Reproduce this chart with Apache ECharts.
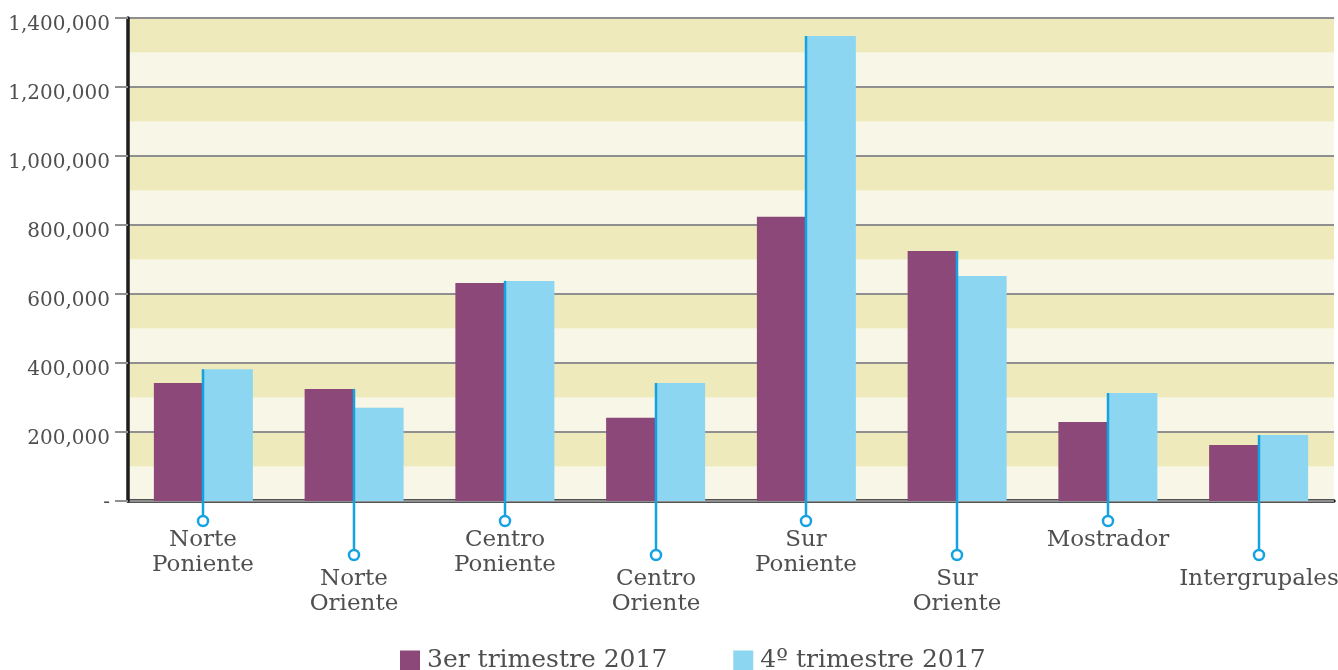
<!DOCTYPE html>
<html>
<head>
<meta charset="utf-8">
<script src="https://cdn.jsdelivr.net/npm/echarts@6/dist/echarts.min.js"></script>
<style>
html,body{margin:0;padding:0;background:#fff;}
#c{width:1338px;height:670px;}
</style>
</head>
<body>
<div id="c"></div>
<script>
// ---- data ----
const categories = ['Norte\nPoniente', 'Norte\nOriente', 'Centro\nPoniente', 'Centro\nOriente', 'Sur\nPoniente', 'Sur\nOriente', 'Mostrador', 'Intergrupales'];
const seriesNames = ['3er trimestre 2017', '4º trimestre 2017'];
const q3Values = [342000, 325000, 632000, 241000, 824000, 725000, 229000, 162000];
const q4Values = [382000, 270000, 638000, 342000, 1348000, 652000, 313000, 191000];
const yMin = 0, yMax = 1400000, yStep = 200000, bandStep = 100000;

// ---- styles ----
const FONT = "'DejaVu Serif', serif";
const TEXT = '#4f4f4f';
const PURPLE = '#8B4878';
const BLUE = '#8DD6F1';
const LEADER = '#14A2E2';

const leaderData = categories.map((c, i) => [i, Math.max(q3Values[i], q4Values[i])]);

const chart = echarts.init(document.getElementById('c'), null, {renderer: 'canvas'});
chart.setOption({
  animation: false,
  backgroundColor: '#ffffff',
  grid: {left: 128, right: 4, top: 18, bottom: 169, containLabel: false},
  legend: {
    data: seriesNames,
    left: 400, top: 648, padding: 0,
    icon: 'rect', itemWidth: 20, itemHeight: 20, itemGap: 66,
    textStyle: {fontFamily: FONT, fontSize: 25, color: TEXT, padding: [0, 0, 0, 2]}
  },
  xAxis: {
    type: 'category',
    data: categories,
    axisLine: {show: true, lineStyle: {color: '#1d1d20', width: 3.5}},
    axisTick: {show: false},
    axisLabel: {show: false},
    splitLine: {show: false}
  },
  yAxis: [{
    type: 'value', min: yMin, max: yMax, interval: yStep,
    axisLine: {show: true, lineStyle: {color: '#1d1d20', width: 3.5}},
    axisTick: {show: true, inside: false, length: 13, lineStyle: {color: '#8f8f8f', width: 2}},
    axisLabel: {
      margin: 18, fontFamily: FONT, fontSize: 20, color: TEXT,
      verticalAlign: 'top', lineHeight: 14,
      formatter: v => v === 0 ? '{z|-}' : v.toLocaleString('en-US'),
      rich: {z: {fontFamily: FONT, fontSize: 20, color: TEXT, lineHeight: 4}}
    },
    splitLine: {show: true, lineStyle: {color: '#8f8f8f', width: 2}},
    z: 1
  }, {
    type: 'value', min: yMin, max: yMax, interval: bandStep,
    axisLine: {show: false}, axisTick: {show: false}, axisLabel: {show: false},
    splitLine: {show: false},
    splitArea: {show: true, areaStyle: {color: ['#F8F6E6', '#EEEABB']}},
    z: 0
  }],
  series: [{
    name: seriesNames[0], type: 'bar', data: q3Values, barWidth: 49.5, barGap: '0%',
    itemStyle: {color: PURPLE}, z: 3
  }, {
    name: seriesNames[1], type: 'bar', data: q4Values, barWidth: 49.5, barGap: '0%',
    itemStyle: {color: BLUE}, z: 3
  }, {
    type: 'custom', data: leaderData, z: 5, clip: false, silent: true,
    renderItem: function (params, api) {
      const idx = api.value(0);
      const top = api.coord([idx, api.value(1)]);
      const base = api.coord([idx, 0]);
      const upper = idx % 2 === 0;
      const cy = base[1] + (upper ? 20 : 54);
      const x = Math.round(top[0]);
      return {
        type: 'group',
        children: [
          {type: 'line', shape: {x1: x, y1: top[1], x2: x, y2: cy - 5},
           style: {stroke: LEADER, lineWidth: 2.5}},
          {type: 'circle', shape: {cx: x, cy: cy, r: 5},
           style: {fill: '#ffffff', stroke: LEADER, lineWidth: 2.5}},
          {type: 'text', x: x, y: cy + (upper ? 7 : 12),
           style: {text: categories[idx], x: 0, y: 0, align: 'center', verticalAlign: 'top',
                   font: '23px ' + FONT, fill: TEXT, lineHeight: 25}}
        ]
      };
    }
  }]
});
</script>
</body>
</html>
